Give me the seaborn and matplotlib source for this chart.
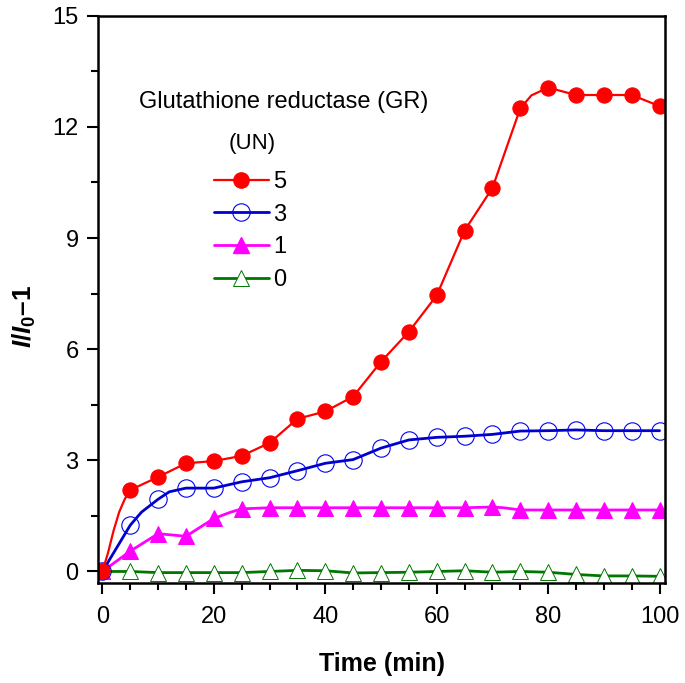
import numpy as np
import matplotlib
matplotlib.use("Agg")
import matplotlib.pyplot as plt
import seaborn as sns
from matplotlib.lines import Line2D
from matplotlib.ticker import MultipleLocator

# time points (min); markers are drawn every 5 min
t_red = [0, 1, 2, 3, 4, 5, 10, 15, 20, 25, 30, 35, 40, 45, 50, 55, 60, 65, 70,
         75, 77, 80, 85, 90, 95, 100]
y_red = [0, 0.5, 1.1, 1.6, 1.95, 2.2, 2.55, 2.92, 2.98, 3.12, 3.47, 4.12, 4.32,
         4.72, 5.66, 6.47, 7.45, 9.2, 10.35, 12.5, 12.85, 13.06, 12.86, 12.86,
         12.86, 12.56]

t_blue = [0, 1, 2, 3, 5, 7, 10, 12, 15, 20, 25, 30, 35, 40, 45, 50, 55, 60, 65,
          70, 75, 80, 85, 90, 95, 100]
y_blue = [0, 0.25, 0.5, 0.75, 1.25, 1.6, 1.95, 2.15, 2.25, 2.25, 2.42, 2.53,
          2.72, 2.92, 3.02, 3.33, 3.55, 3.62, 3.65, 3.7, 3.79, 3.8, 3.82, 3.8,
          3.8, 3.8]

t_mag = [0, 5, 10, 15, 20, 23, 25, 30, 35, 40, 45, 50, 55, 60, 65, 70, 72, 75,
         80, 85, 90, 95, 100]
y_mag = [0, 0.55, 1.02, 0.95, 1.43, 1.6, 1.69, 1.72, 1.72, 1.72, 1.72, 1.72,
         1.72, 1.72, 1.72, 1.74, 1.72, 1.66, 1.66, 1.66, 1.66, 1.66, 1.66]

t_green = [0, 5, 10, 15, 20, 25, 30, 35, 40, 45, 50, 55, 60, 65, 70, 75, 80,
           85, 90, 95, 100]
y_green = [0, 0, -0.03, -0.03, -0.03, -0.03, 0, 0.03, 0.02, -0.04, -0.03,
           -0.02, 0, 0.02, -0.02, 0, -0.02, -0.08, -0.12, -0.12, -0.13]

series_labels = ["5", "3", "1", "0"]

sns.set_style("ticks")
plt.rcParams["font.family"] = ["Liberation Sans", "DejaVu Sans"]
plt.rcParams["mathtext.fontset"] = "custom"
plt.rcParams["mathtext.it"] = "Liberation Sans:bold:italic"
plt.rcParams["mathtext.rm"] = "Liberation Sans:bold"
plt.rcParams["mathtext.bf"] = "Liberation Sans:bold"
plt.rcParams["text.color"] = "black"
plt.rcParams["axes.labelcolor"] = "black"
plt.rcParams["xtick.color"] = "black"
plt.rcParams["ytick.color"] = "black"
plt.rcParams["axes.edgecolor"] = "black"

fig, ax = plt.subplots(figsize=(6.85, 6.83), dpi=100)
fig.subplots_adjust(left=0.143, right=0.971, top=0.977, bottom=0.147)


def every5(t):
    return [i for i, v in enumerate(t) if v % 5 == 0]


styles = [
    (t_red, y_red, dict(color="red", lw=1.6, marker="o", markersize=11,
                        markerfacecolor="red", markeredgecolor="red")),
    (t_blue, y_blue, dict(color="#0000cc", lw=2.0, marker="o", markersize=12.5,
                          markerfacecolor="none", markeredgecolor="#0000ee",
                          markeredgewidth=0.8)),
    (t_mag, y_mag, dict(color="magenta", lw=2.0, marker="^", markersize=12,
                        markerfacecolor="magenta", markeredgecolor="magenta")),
    (t_green, y_green, dict(color="#007700", lw=2.0, marker="^", markersize=12,
                            markerfacecolor="white", markeredgecolor="#007700",
                            markeredgewidth=0.7)),
]

# draw from bottom series up so red sits on top
for t, y, kw in styles[::-1]:
    sns.lineplot(x=t, y=y, ax=ax, markevery=every5(t), sort=False, **kw)

ax.set_xlim(-0.8, 101)
ax.set_ylim(-0.3, 15)
ax.xaxis.set_major_locator(MultipleLocator(20))
ax.xaxis.set_minor_locator(MultipleLocator(5))
ax.yaxis.set_major_locator(MultipleLocator(3))
ax.yaxis.set_minor_locator(MultipleLocator(1.5))
ax.tick_params(which="major", direction="out", length=8, width=1.5,
               labelsize=17, top=False, right=False)
ax.tick_params(axis="x", which="major", pad=9)
ax.tick_params(axis="y", which="major", pad=6)
ax.tick_params(which="minor", direction="out", length=5, width=1.5,
               top=False, right=False)
for s in ax.spines.values():
    s.set_visible(True)
    s.set_linewidth(1.8)

ax.set_xlabel("Time (min)", fontsize=18, fontweight="bold", labelpad=17)
ax.set_ylabel(r"$I/I_0$–1", fontsize=19, fontweight="bold")
ax.yaxis.set_label_coords(-0.105, 0.47)

ax.text(0.073, 0.848, "Glutathione reductase (GR)", transform=ax.transAxes,
        fontsize=17, va="center", ha="left")
ax.text(0.272, 0.775, "(UN)", transform=ax.transAxes,
        fontsize=16, va="center", ha="center")

handles = [Line2D([], [], **kw) for _, _, kw in styles]
leg = ax.legend(handles, series_labels, loc="upper left",
                bbox_to_anchor=(0.176, 0.755), frameon=False, fontsize=17,
                handlelength=2.3, handletextpad=0.2, labelspacing=0.45,
                borderpad=0.2)

fig.savefig("out.png", dpi=100)
